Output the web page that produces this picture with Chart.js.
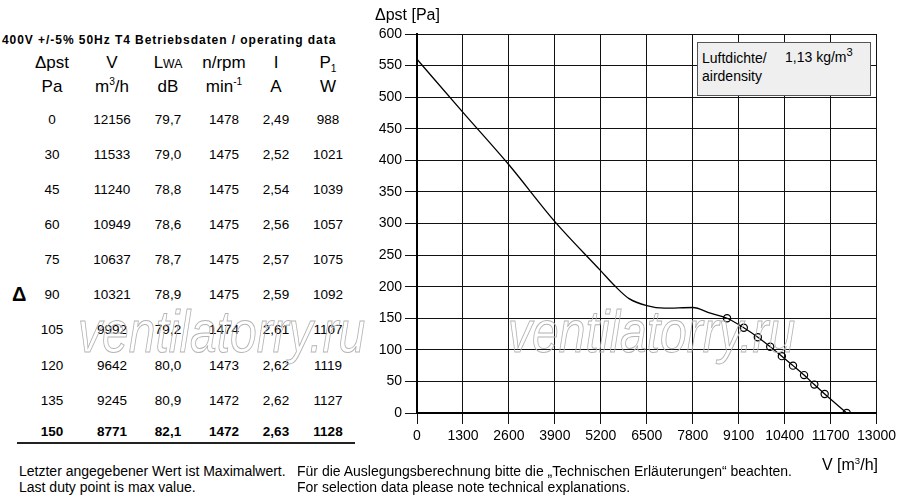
<!DOCTYPE html>
<html><head><meta charset="utf-8">
<script src="https://cdn.jsdelivr.net/npm/chart.js@4.4.1/dist/chart.umd.min.js"></script>
<style>
html,body{margin:0;padding:0;background:#fff;}
#wrap{position:relative;width:900px;height:500px;overflow:hidden;font-family:"Liberation Sans",Arial,Helvetica,sans-serif;color:#000;}
.t{position:absolute;white-space:nowrap;line-height:1;}
canvas{position:absolute;left:360px;top:0;}
.wm{position:absolute;white-space:nowrap;font-family:"Liberation Sans",Arial,sans-serif;font-style:italic;font-size:60px;color:transparent;-webkit-text-stroke:1px #b4b4b4;transform-origin:left top;transform:scaleX(0.8);pointer-events:none;line-height:1;}
#box{position:absolute;left:697px;top:42px;width:174px;height:54px;background:#efefef;border:1px solid #555;box-sizing:border-box;}
sup,sub{line-height:0;}
</style></head>
<body><div id="wrap">
<canvas id="c" width="540" height="500"></canvas>
<div id="box"></div>
</div>
<script>
// ---- table / duty point data ----
const pstPa   = [0, 30, 45, 60, 75, 90, 105, 120, 135, 150];
const flowV   = [12156, 11533, 11240, 10949, 10637, 10321, 9992, 9642, 9245, 8771];
const lwa     = ['79,7','79,0','78,8','78,6','78,7','78,9','79,2','80,0','80,9','82,1'];
const rpm     = [1478, 1475, 1475, 1475, 1475, 1475, 1474, 1473, 1472, 1472];
const current = ['2,49','2,52','2,54','2,56','2,57','2,59','2,61','2,62','2,62','2,63'];
const power   = [988, 1021, 1039, 1057, 1075, 1092, 1107, 1119, 1127, 1128];
// ---- characteristic curve, left of the duty points ----
const curveV   = [0, 1300, 2600, 3900, 5200, 5600, 6000, 6500, 7000, 7800, 8300];
const curvePst = [560, 476, 393, 303, 225, 201, 181, 170, 166, 167, 158];
// ---- axis ticks ----
const xTicks = [0,1300,2600,3900,5200,6500,7800,9100,10400,11700,13000];
const yTicks = [0,50,100,150,200,250,300,350,400,450,500,550,600];

const wrap = document.getElementById('wrap');
function put(html, x, y, align, font, extra){
  const d = document.createElement('div');
  d.className = 't';
  d.innerHTML = html;
  d.style.font = font;
  d.style.top = y + 'px';
  let tx = align === 'center' ? '-50%' : (align === 'right' ? '-100%' : '0');
  d.style.left = x + 'px';
  d.style.transform = 'translate(' + tx + ',-50%)';
  if (extra) Object.assign(d.style, extra);
  wrap.appendChild(d);
  return d;
}
const F = '"Liberation Sans",Arial,sans-serif';
put('400V +/-5% 50Hz T4 Betriebsdaten / operating data', 2, 40, 'left', 'bold 12px ' + F, {letterSpacing:'0.95px'});
const colX = [52, 112, 168, 224, 276, 328];
const h1 = ['&Delta;pst','V','L<span style="font-size:0.72em">WA</span>','n/rpm','I','P<sub style="font-size:0.6em">1</sub>'];
const h2 = ['Pa','m<sup style="font-size:0.6em">3</sup>/h','dB','min<sup style="font-size:0.6em">-1</sup>','A','W'];
h1.forEach((h,i)=>put(h, colX[i], 63, 'center', '17px ' + F));
h2.forEach((h,i)=>put(h, colX[i], 87, 'center', '17px ' + F));
const rowY = [119,154,189,224,259,294,329,365,400,431];
for (let r = 0; r < pstPa.length; r++){
  const vals = [pstPa[r], flowV[r], lwa[r], rpm[r], current[r], power[r]];
  const bold = r === pstPa.length - 1 ? 'bold ' : '';
  vals.forEach((v,i)=>put(String(v), colX[i], rowY[r], 'center', bold + '13.5px ' + F));
}
const line = document.createElement('div');
Object.assign(line.style,{position:'absolute',left:'17px',top:'442px',width:'338px',height:'2px',background:'#222'});
wrap.appendChild(line);
put('&Delta;', 12, 294, 'left', 'bold 20px ' + F);

put('&Delta;pst [Pa]', 375, 15, 'left', '16px ' + F);
put('V [m<sup style="font-size:0.6em">3</sup>/h]', 878, 465, 'right', '16px ' + F);
put('Luftdichte/', 702, 58, 'left', '14px ' + F);
put('1,13 kg/m<sup style="font-size:0.8em">3</sup>', 785, 57, 'left', '14px ' + F);
put('airdensity', 702, 76, 'left', '14px ' + F);

put('Letzter angegebener Wert ist Maximalwert.', 19, 471, 'left', '14px ' + F);
put('Last duty point is max value.', 19, 487, 'left', '14px ' + F);
put('F&uuml;r die Auslegungsberechnung bitte die &bdquo;Technischen Erl&auml;uterungen&ldquo; beachten.', 297, 471, 'left', '14px ' + F);
put('For selection data please note technical explanations.', 297, 487, 'left', '14px ' + F);

['78','508'].forEach(x=>{
  const w = document.createElement('div');
  w.className = 'wm';
  w.textContent = 'ventilatorry.ru';
  w.style.left = x + 'px';
  w.style.top = '302px';
  wrap.appendChild(w);
});

// ---- build chart data from arrays ----
const pts = [];
const radii = [];
for (let i = 0; i < curveV.length; i++){ pts.push({x: curveV[i], y: curvePst[i]}); radii.push(0); }
for (let i = flowV.length - 1; i >= 0; i--){ pts.push({x: flowV[i], y: pstPa[i]}); radii.push(3.6); }

Chart.defaults.font.family = '"Liberation Sans",Arial,sans-serif';
Chart.defaults.font.size = 14;
Chart.defaults.color = '#000';

new Chart(document.getElementById('c'), {
  type: 'line',
  data: { datasets: [{
    data: pts,
    borderColor: '#000',
    borderWidth: 1.3,
    pointRadius: radii,
    pointBorderWidth: 1.2,
    pointBorderColor: '#000',
    pointBackgroundColor: 'rgba(0,0,0,0)',
    pointStyle: 'circle',
    cubicInterpolationMode: 'monotone',
    fill: false
  }]},
  options: {
    responsive: false,
    animation: false,
    events: [],
    layout: { padding: { left: 0, top: 34, right: 22, bottom: 47 } },
    plugins: { legend: { display: false }, tooltip: { enabled: false } },
    scales: {
      x: {
        type: 'linear', min: 0, max: 13000,
        afterBuildTicks: s => { s.ticks = xTicks.map(v => ({value: v})); },
        afterFit: s => { s.height = 40; },
        ticks: { padding: 4, font: { size: 14 }, color: '#000', maxRotation: 0, autoSkip: false,
                 callback: v => String(v) },
        grid: { color: '#111', lineWidth: 1, tickLength: 11 },
        border: { display: true, color: '#000', width: 2 }
      },
      y: {
        type: 'linear', min: 0, max: 600,
        afterBuildTicks: s => { s.ticks = yTicks.map(v => ({value: v})); },
        afterFit: s => { s.width = 57; },
        ticks: { padding: 3, font: { size: 14 }, color: '#000', autoSkip: false,
                 callback: v => String(v) },
        grid: { color: '#111', lineWidth: 1, tickLength: 12 },
        border: { display: true, color: '#000', width: 2 }
      }
    }
  }
});
</script>
</body></html>
